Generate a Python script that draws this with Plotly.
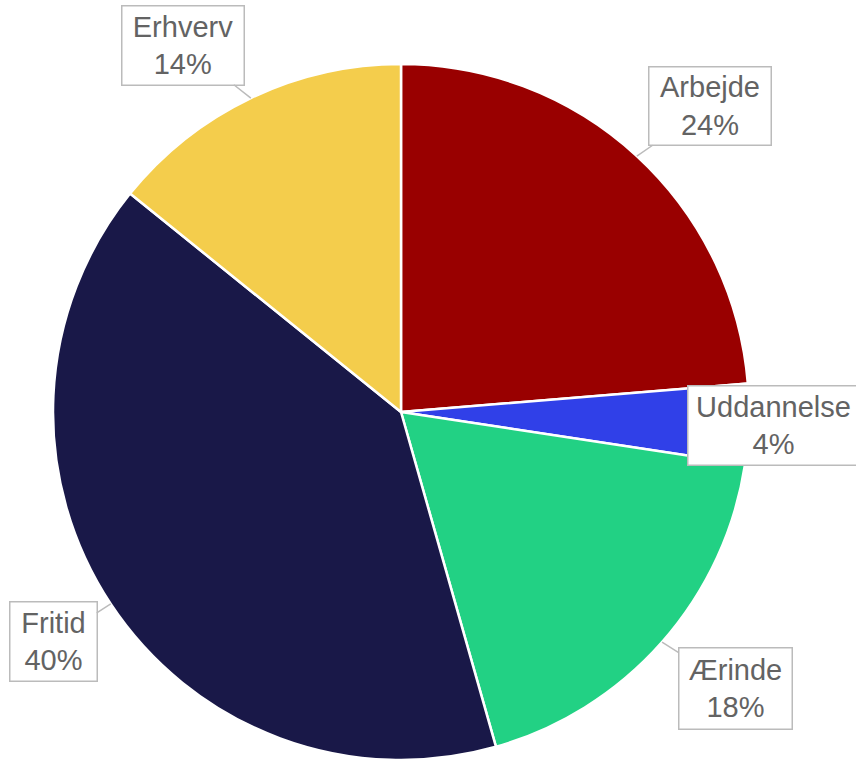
import math
import plotly.graph_objects as go

labels = ["Arbejde", "Uddannelse", "Ærinde", "Fritid", "Erhverv"]
values = [23.7, 3.7, 18.2, 40.2, 14.2]
colors = ["#990000", "#3040E8", "#22D184", "#191848", "#F4CD4C"]

W, H = 856, 763
CX, CY, R = 401, 412, 348  # pie centre / radius in pixels (layout)

# label box centres and sizes (pixels)
box_pos = {
    "Arbejde": (710, 106, 119, 75),
    "Uddannelse": (773, 426, 168, 76),
    "Ærinde": (735, 688, 110, 78),
    "Fritid": (53, 641, 84, 76),
    "Erhverv": (183, 45, 119, 76),
}

fig = go.Figure(go.Pie(
    labels=labels, values=values, sort=False, direction="clockwise", rotation=0,
    marker=dict(colors=colors, line=dict(color="white", width=2.5)),
    textinfo="none", hoverinfo="label+percent",
    domain=dict(x=[(CX - R) / W, (CX + R) / W], y=[(H - CY - R) / H, (H - CY + R) / H]),
    showlegend=False,
))

total = sum(values)
cum = 0.0
ann = []
for lab, v in zip(labels, values):
    mid = (cum + v / 2) / total * 2 * math.pi
    cum += v
    px = CX + R * math.sin(mid)
    py = CY - R * math.cos(mid)
    bx, by, bw, bh = box_pos[lab]
    pct = round(v / total * 100)
    common = dict(
        text=f"{lab}<br>{pct}%", xref="paper", yref="paper",
        font=dict(family="Liberation Sans, Arial", size=29, color="#636363"),
        bgcolor="white", bordercolor="#BBBBBB", borderwidth=1.5,
        width=bw, height=bh, align="center", valign="middle",
    )
    if lab == "Uddannelse":
        ann.append(dict(x=bx / W, y=1 - by / H, xanchor="center", yanchor="middle",
                        showarrow=False, **common))
    else:
        ann.append(dict(x=px / W, y=1 - py / H, showarrow=True, arrowhead=0,
                        arrowwidth=1.5, arrowcolor="#BBBBBB", standoff=0,
                        ax=bx - px, ay=by - py, **common))

fig.update_layout(
    width=W, height=H, margin=dict(l=0, r=0, t=0, b=0),
    paper_bgcolor="white", plot_bgcolor="white", annotations=ann,
)
fig.write_html("out.html", config={"displayModeBar": False},
               post_script="document.body.style.margin='0';")
